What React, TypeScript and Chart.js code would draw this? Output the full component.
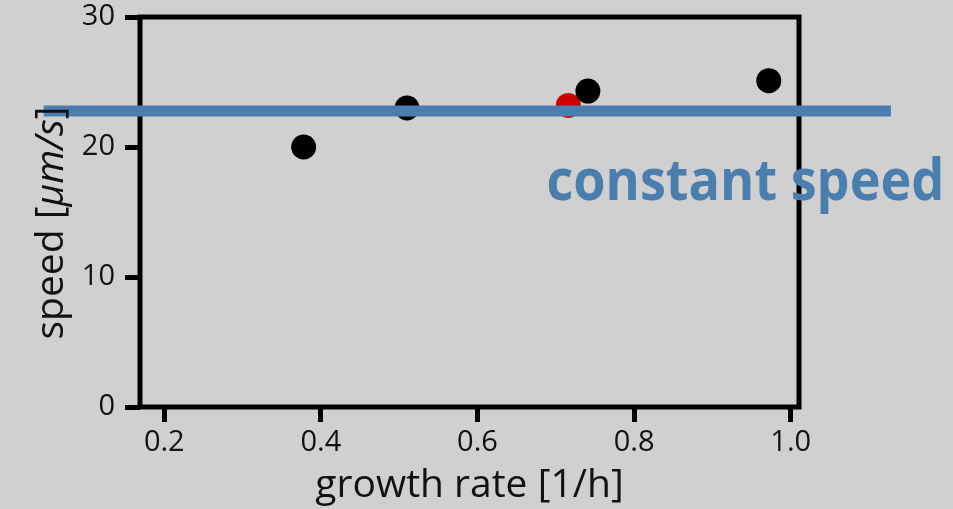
import React, { useEffect, useRef } from "react";
import { Chart, registerables } from "chart.js";

Chart.register(...registerables);

// ---- data ----
const growthRates = [0.378, 0.51, 0.741, 0.972];
const speeds = [20.0, 23.0, 24.3, 25.1];
const highlightRates = [0.716];
const highlightSpeeds = [23.2];
const constantSpeedValue = 22.77;
const constantSpanRates = [0.046, 1.128];
const xTickValues = [0.2, 0.4, 0.6, 0.8, 1.0];
const yTickValues = [0, 10, 20, 30];
const xAxisLabel = "growth rate [1/h]";
const yAxisLabelParts = ["speed [", "μm/s", "]"];
const annotationText = "constant speed";
const annotationAnchor = { x: 0.688, y: 15.9 };

const BG = "#d0d0d0";
const BLUE = "#4a7eae";
const TEXT = "#111111";
const FONT = "'Open Sans', 'Noto Sans', sans-serif";

const framePlugin = {
  id: "frameAndText",
  beforeDatasetsDraw(chart: any) {
    const { ctx, chartArea } = chart;
    ctx.save();
    ctx.strokeStyle = "#000";
    ctx.lineWidth = 5;
    ctx.lineJoin = "miter";
    ctx.strokeRect(
      chartArea.left,
      chartArea.top,
      chartArea.right - chartArea.left,
      chartArea.bottom - chartArea.top
    );
    ctx.restore();
  },
  afterDraw(chart: any) {
    const { ctx, chartArea } = chart;
    const xs = chart.scales.x;
    const ys = chart.scales.y;
    // y axis title with italic unit
    ctx.save();
    ctx.fillStyle = TEXT;
    const size = 39;
    const fonts = [
      `normal ${size}px ${FONT}`,
      `italic ${size}px ${FONT}`,
      `normal ${size}px ${FONT}`,
    ];
    const widths = yAxisLabelParts.map((t, i) => {
      ctx.font = fonts[i];
      return ctx.measureText(t).width;
    });
    const total = widths.reduce((a, b) => a + b, 0);
    const cy = (chartArea.top + chartArea.bottom) / 2 + 11;
    ctx.translate(63, cy);
    ctx.rotate(-Math.PI / 2);
    ctx.textBaseline = "alphabetic";
    ctx.textAlign = "left";
    let pos = -total / 2;
    yAxisLabelParts.forEach((t, i) => {
      ctx.font = fonts[i];
      ctx.fillText(t, pos, 0);
      pos += widths[i];
    });
    ctx.restore();

    // annotation
    ctx.save();
    ctx.fillStyle = BLUE;
    ctx.font = `bold 58px ${FONT}`;
    ctx.textAlign = "left";
    ctx.textBaseline = "alphabetic";
    ctx.fillText(
      annotationText,
      xs.getPixelForValue(annotationAnchor.x),
      ys.getPixelForValue(annotationAnchor.y),
      398
    );
    ctx.restore();
  },
};

export default function App() {
  const ref = useRef<HTMLCanvasElement | null>(null);

  useEffect(() => {
    document.body.style.margin = "0";
    document.body.style.background = BG;
    const canvas = ref.current;
    if (!canvas) return;
    const chart = new Chart(canvas, {
      type: "scatter",
      data: {
        datasets: [
          {
            type: "line",
            label: "constant speed",
            data: constantSpanRates.map((x) => ({ x, y: constantSpeedValue })),
            borderColor: BLUE,
            borderWidth: 11,
            borderCapStyle: "butt",
            pointRadius: 0,
            showLine: true,
            fill: false,
            clip: false as any,
            order: 1,
          } as any,
          {
            label: "measured",
            data: growthRates.map((x, i) => ({ x, y: speeds[i] })),
            backgroundColor: "#000",
            borderWidth: 0,
            pointRadius: 12.5,
            order: 2,
            clip: false as any,
          },
          {
            label: "highlight",
            data: highlightRates.map((x, i) => ({ x, y: highlightSpeeds[i] })),
            backgroundColor: "#cc0000",
            borderWidth: 0,
            pointRadius: 12.5,
            order: 3,
            clip: false as any,
          },
        ],
      },
      options: {
        responsive: false,
        animation: false,
        devicePixelRatio: 1,
        events: [],
        layout: { padding: { top: 17, right: 154, left: 0, bottom: 0 } },
        plugins: {
          legend: { display: false },
          tooltip: { enabled: false },
        },
        scales: {
          x: {
            type: "linear",
            min: 0.169,
            max: 1.0106,
            afterBuildTicks: (s: any) => {
              s.ticks = xTickValues.map((v) => ({ value: v }));
            },
            afterFit: (s: any) => {
              s.height = 102;
              s.paddingLeft = 0;
              s.paddingRight = 0;
            },
            border: { display: false },
            grid: {
              display: true,
              drawOnChartArea: false,
              drawTicks: true,
              tickLength: 15,
              tickWidth: 5,
              tickColor: "#000",
            },
            ticks: {
              color: TEXT,
              padding: 3,
              font: { family: FONT, size: 29, lineHeight: 1.2 },
              maxRotation: 0,
              autoSkip: false,
              callback: (v: any) => Number(v).toFixed(1),
            },
            title: {
              display: true,
              text: xAxisLabel,
              color: TEXT,
              font: { family: FONT, size: 39, lineHeight: 1.2 },
              padding: { top: 0, bottom: 0 },
            },
          },
          y: {
            type: "linear",
            min: 0,
            max: 30,
            afterBuildTicks: (s: any) => {
              s.ticks = yTickValues.map((v) => ({ value: v }));
            },
            afterFit: (s: any) => {
              s.width = 140;
              s.paddingTop = 0;
              s.paddingBottom = 0;
            },
            border: { display: false },
            grid: {
              display: true,
              drawOnChartArea: false,
              drawTicks: true,
              tickLength: 15,
              tickWidth: 5,
              tickColor: "#000",
            },
            ticks: {
              color: TEXT,
              padding: 10,
              font: { family: FONT, size: 29, lineHeight: 1 },
              autoSkip: false,
              callback: (v: any) => String(v),
            },
          },
        },
      } as any,
      plugins: [framePlugin],
    });
    return () => chart.destroy();
  }, []);

  return (
    <div style={{ width: 953, height: 509, background: BG }}>
      <canvas ref={ref} width={953} height={509} style={{ display: "block" }} />
    </div>
  );
}
